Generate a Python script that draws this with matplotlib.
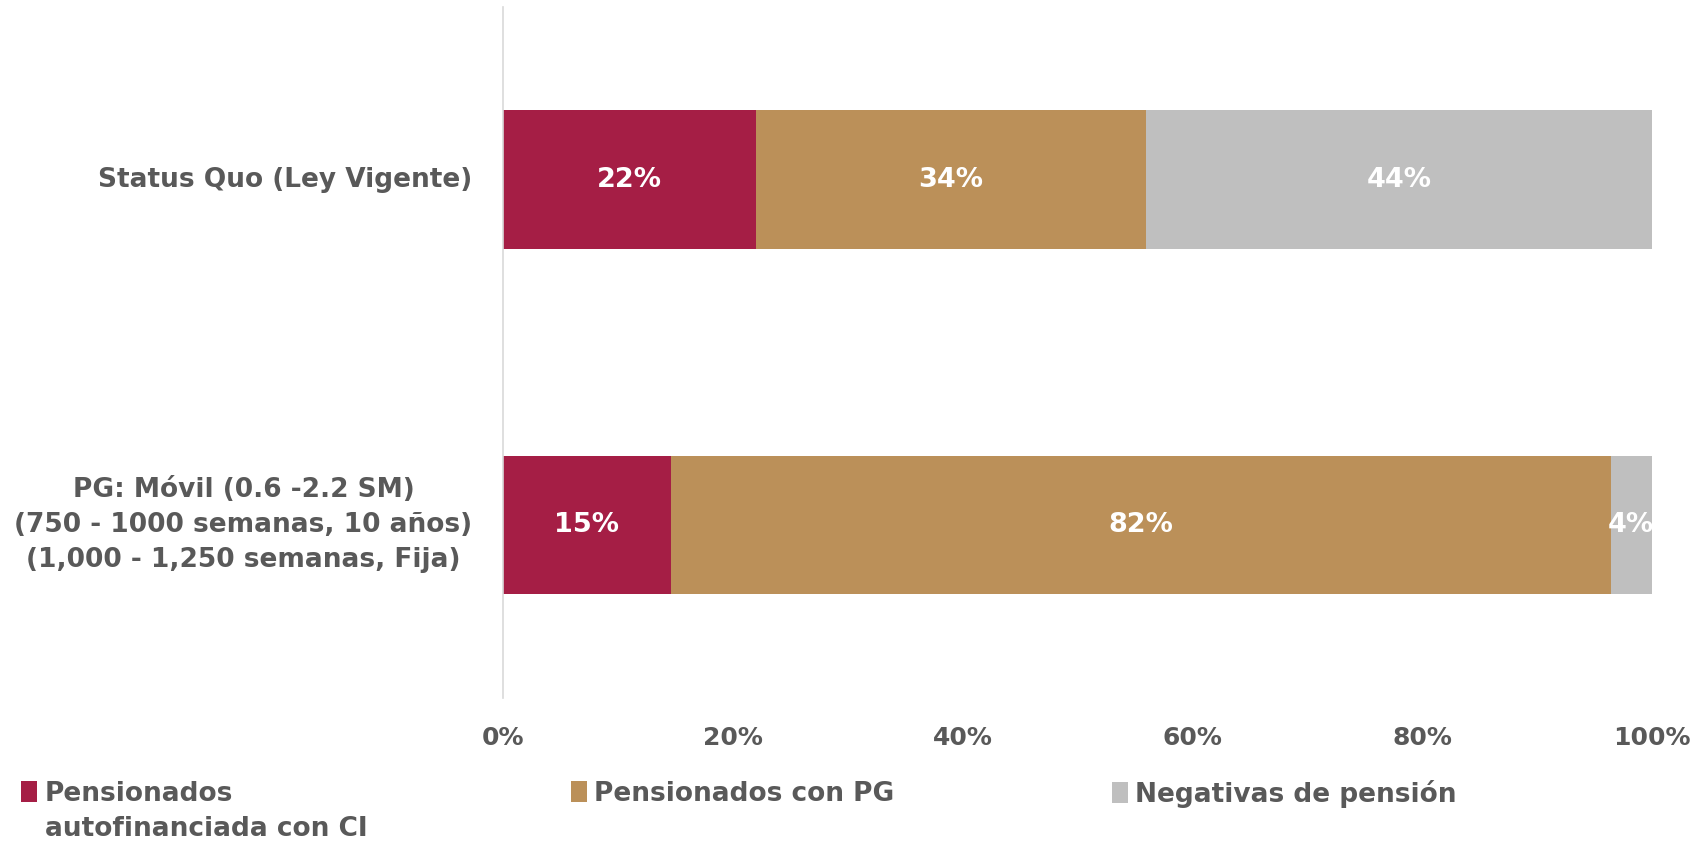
import matplotlib
matplotlib.use("Agg")
import matplotlib.pyplot as plt
import numpy as np

# datos
escenarios = ["PG: Móvil (0.6 -2.2 SM)\n(750 - 1000 semanas, 10 años)\n(1,000 - 1,250 semanas, Fija)",
              "Status Quo (Ley Vigente)"]
series = ["Pensionados", "Pensionados con PG", "Negativas de pensión"]
series_extra = "autofinanciada con CI"
autofinanciada = [14.6, 22.0]
con_pg = [81.8, 34.0]
negativas = [3.6, 44.0]
colores = ["#A51E45", "#BB9059", "#BFBFBF"]
gris_texto = "#595959"

plt.rcParams["font.family"] = ["DejaVu Sans"]
plt.rcParams["font.weight"] = "bold"

fig = plt.figure(figsize=(16.96, 8.47), dpi=100)
ax = fig.add_axes([0.2966, 0.176, 0.6774, 0.816])

y = np.arange(len(escenarios))
left = np.zeros(len(escenarios))
barras = []
for vals, nombre, c in zip([autofinanciada, con_pg, negativas], series, colores):
    bars = ax.barh(y, vals, left=left, height=0.40, color=c, label=nombre)
    barras.append(bars)
    for b, v in zip(bars, vals):
        ax.text(b.get_x() + b.get_width() / 2, b.get_y() + b.get_height() / 2,
                f"{v:.0f}%", ha="center", va="center", color="white",
                fontsize=19.5, fontweight="bold")
    left += np.array(vals)

ax.set_xlim(0, 100)
ax.set_ylim(-0.5, 1.5)
ax.set_yticks(y)
ax.set_yticklabels(escenarios, fontsize=19, color=gris_texto, fontweight="bold",
                   multialignment="center", linespacing=1.45)
for lab in ax.get_yticklabels():
    lab.set_verticalalignment("center")
ax.set_xticks(np.arange(0, 101, 20))
ax.set_xticklabels([f"{t}%" for t in range(0, 101, 20)], fontsize=18,
                   color=gris_texto, fontweight="bold")
ax.tick_params(axis="both", length=0)
ax.tick_params(axis="x", pad=20)
ax.tick_params(axis="y", pad=22)

for s in ["top", "right", "bottom"]:
    ax.spines[s].set_visible(False)
ax.spines["left"].set_color("#D9D9D9")
ax.spines["left"].set_linewidth(1.2)

# leyenda: una entrada por columna
pos_x = [0.0125, 0.3365, 0.6555]
for bars, nombre, x in zip(barras, series, pos_x):
    leg = fig.legend([bars], [nombre], loc="center left", bbox_to_anchor=(x, 0.063),
                     frameon=False, fontsize=19, handlelength=0.6, handleheight=0.8,
                     handletextpad=0.3, borderpad=0, borderaxespad=0)
    for t in leg.get_texts():
        t.set_color(gris_texto)
        t.set_fontweight("bold")
fig.text(0.0265, 0.021, series_extra, fontsize=19, color=gris_texto,
         fontweight="bold", ha="left", va="center")

fig.savefig("out.png", dpi=100)
